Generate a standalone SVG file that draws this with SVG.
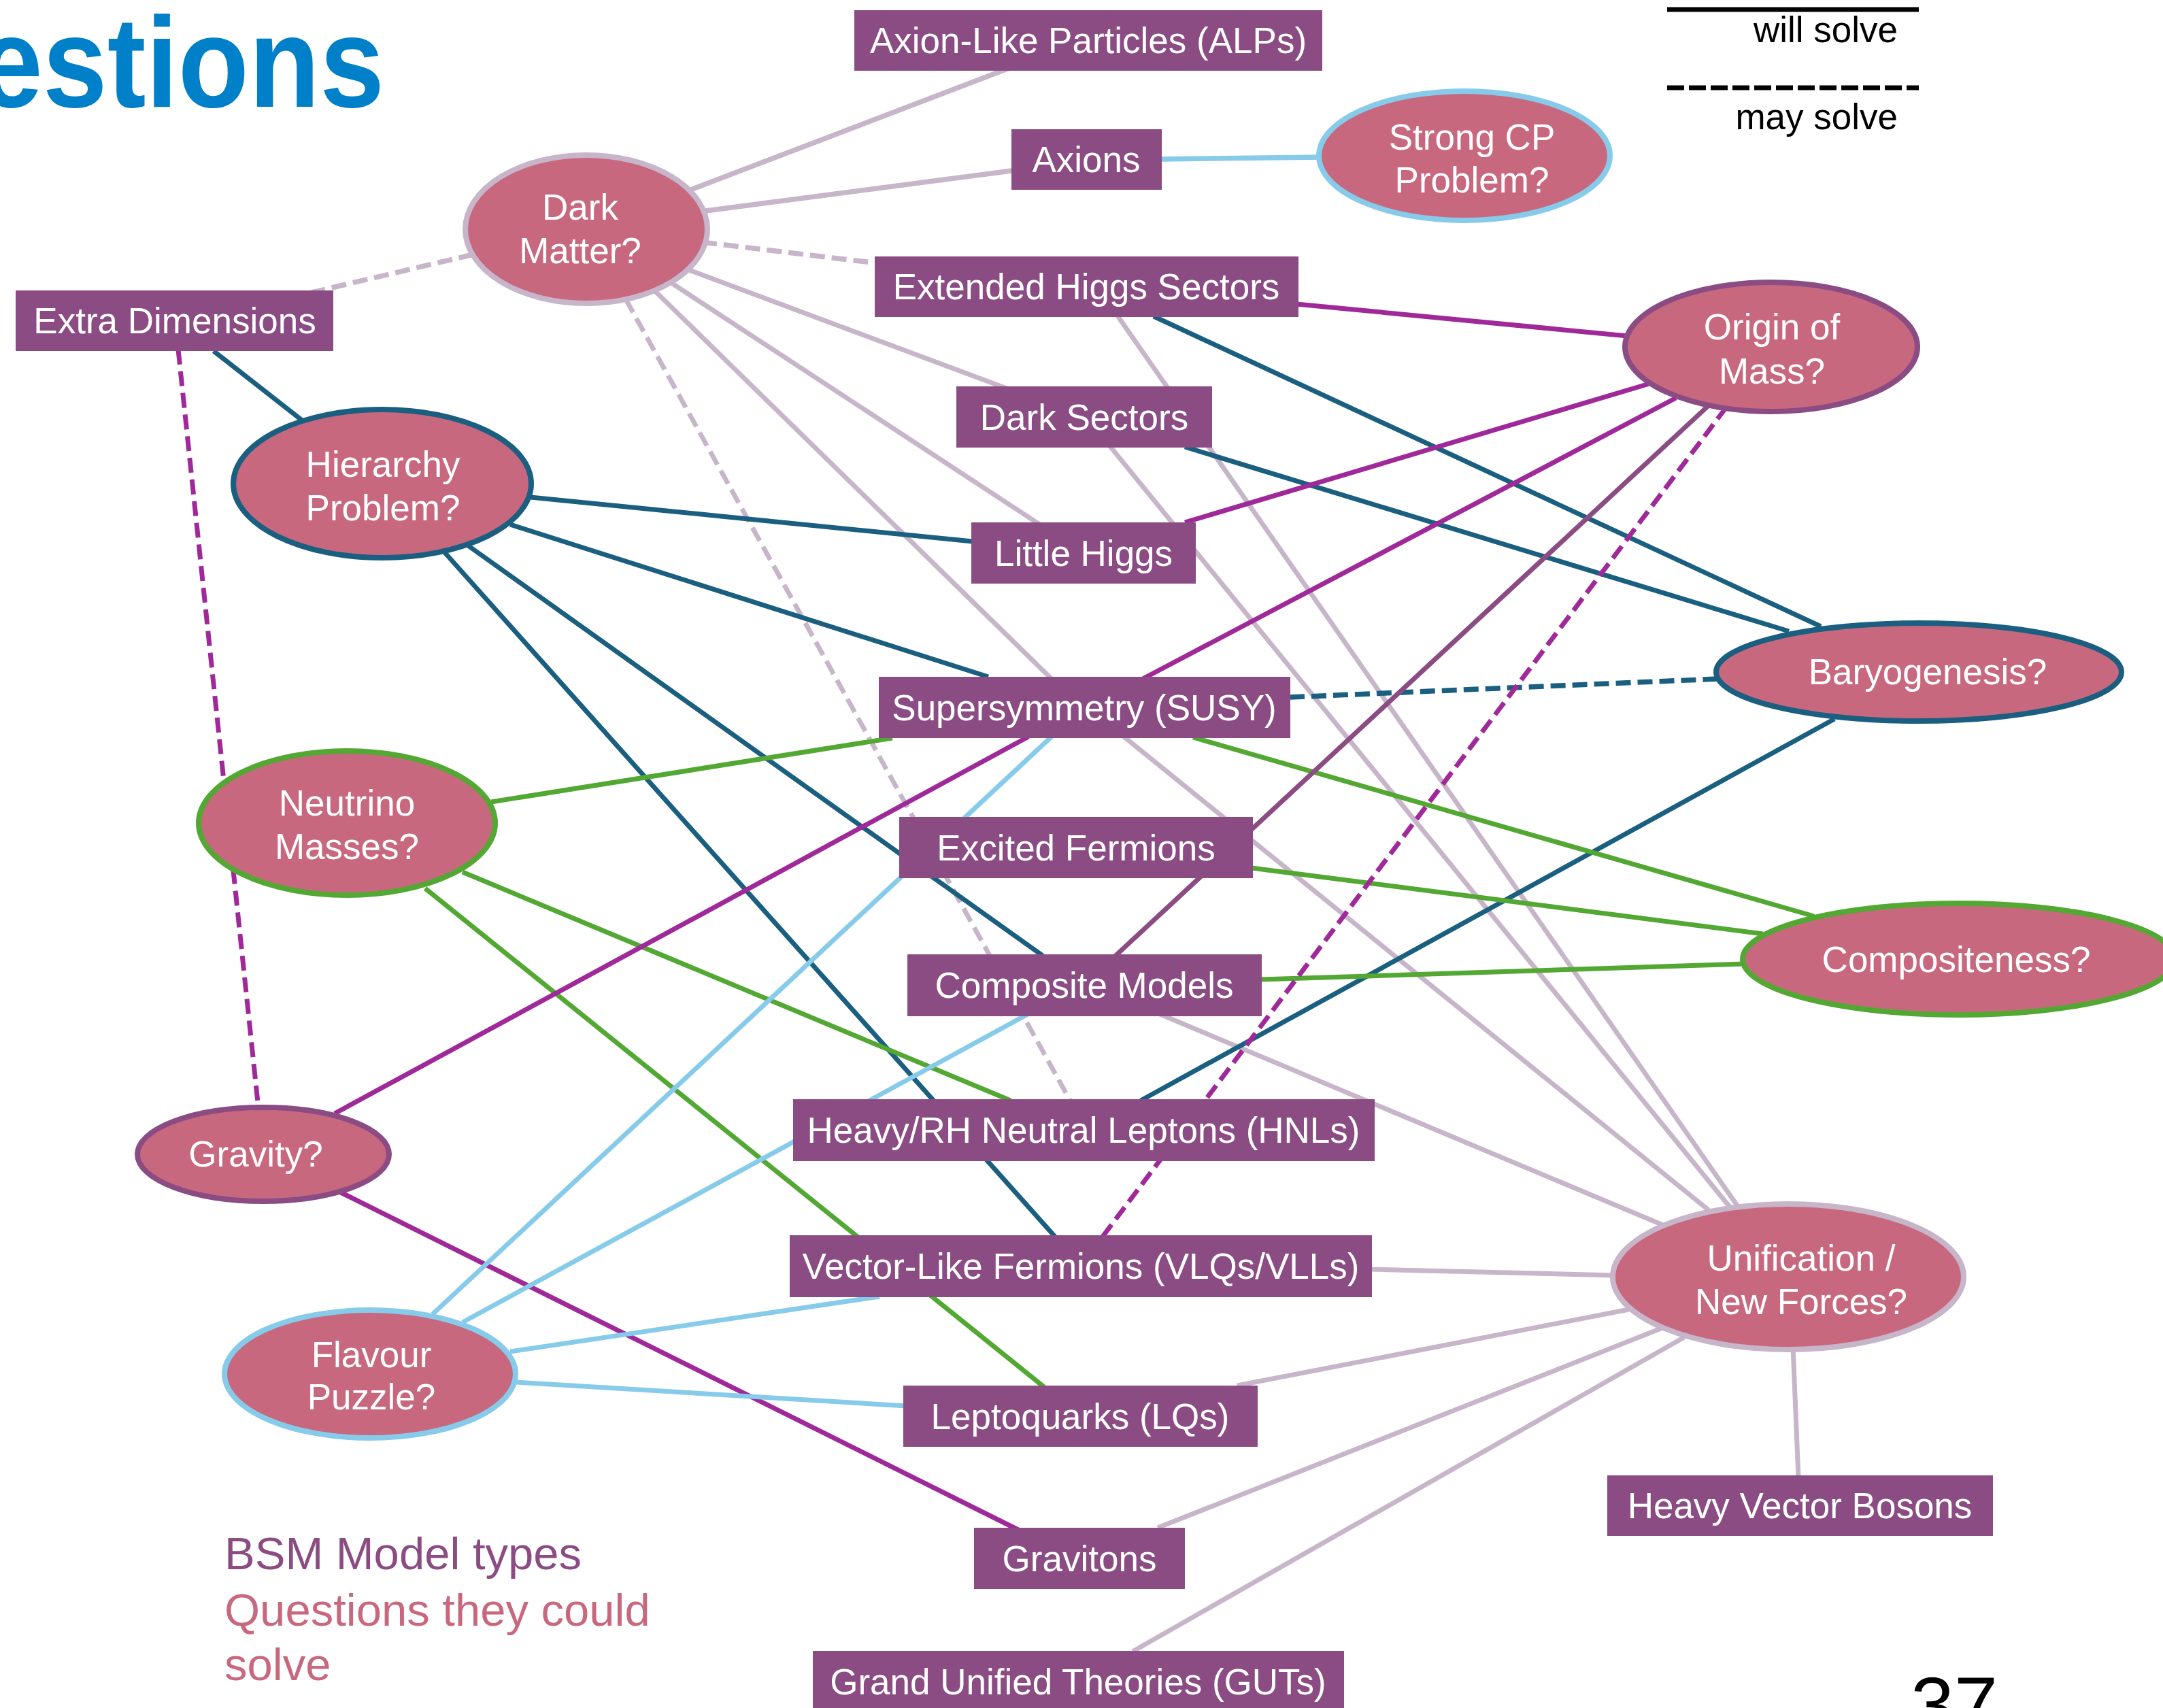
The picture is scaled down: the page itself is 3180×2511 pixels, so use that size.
<svg xmlns="http://www.w3.org/2000/svg" width="3180" height="2511" viewBox="0 0 3180 2511">
<style>
.c{fill:none;stroke-width:7;stroke-linecap:butt}
.m{stroke:#C7B5C9}.t{stroke:#1A5F80}.g{stroke:#52A832}.p{stroke:#A0299A}.q{stroke:#8B4C84}.b{stroke:#87CBEA}
.w7{stroke-width:7.5}
.d{stroke-dasharray:22 10}
.box rect{fill:#8B4C84}
.q1 ellipse{fill:#C8687E;stroke-width:8}
text{font-family:"Liberation Sans",Arial,Helvetica,sans-serif}
.lb{fill:#fff;font-size:53px;text-anchor:middle}
</style>
<rect width="3180" height="2511" fill="#fff"/>
<text x="-32" y="157" font-size="190" font-weight="bold" fill="#0080C8" textLength="597" lengthAdjust="spacingAndGlyphs">estions</text>
<g id="legend">
<line x1="2451" y1="14" x2="2821" y2="14" stroke="#000" stroke-width="7"/>
<text x="2790" y="62" font-size="53" text-anchor="end" fill="#000">will solve</text>
<line x1="2451" y1="129" x2="2821" y2="129" stroke="#000" stroke-width="7" stroke-dasharray="25 7"/>
<text x="2790" y="190" font-size="53" text-anchor="end" fill="#000">may solve</text>
<text x="330" y="2307" font-size="67" fill="#8B4C84">BSM Model types</text>
<text x="330" y="2390" font-size="67" fill="#C8687E">Questions they could</text>
<text x="330" y="2470" font-size="67" fill="#C8687E">solve</text>
<text x="2809" y="2546" font-size="115" fill="#000">37</text>
</g>
<g id="connectors">
<line class="c m w7" x1="1010" y1="281" x2="1484" y2="100"/>
<line class="c m w7" x1="1030" y1="311" x2="1495" y2="250"/>
<line class="c m w7 d" x1="1032" y1="356" x2="1290" y2="387"/>
<line class="c m w7 d" x1="696" y1="374" x2="458" y2="430"/>
<line class="c m" x1="1008" y1="395" x2="1480" y2="571"/>
<line class="c m" x1="984" y1="414" x2="1530" y2="772"/>
<line class="c m" x1="960" y1="425" x2="1548" y2="1000"/>
<line class="c m d" x1="920" y1="440" x2="1575" y2="1621"/>
<line class="c m" x1="1640" y1="460" x2="2558" y2="1778"/>
<line class="c m" x1="1631" y1="655" x2="2546" y2="1778"/>
<line class="c m" x1="1651" y1="1082" x2="2512" y2="1779"/>
<line class="c m" x1="1703" y1="1490" x2="2445" y2="1801"/>
<line class="c m" x1="2015" y1="1866" x2="2375" y2="1875"/>
<line class="c m" x1="1819" y1="2037" x2="2395" y2="1925"/>
<line class="c m" x1="1702" y1="2246" x2="2442" y2="1953"/>
<line class="c m" x1="1665" y1="2428" x2="2476" y2="1966"/>
<line class="c m" x1="2636" y1="1980" x2="2644" y2="2172"/>
<line class="c t" x1="314" y1="516" x2="448" y2="621"/>
<line class="c t" x1="780" y1="731" x2="1430" y2="796"/>
<line class="c t" x1="750" y1="771" x2="1453" y2="995"/>
<line class="c t" x1="688" y1="802" x2="1533" y2="1405"/>
<line class="c t" x1="650" y1="808" x2="1551" y2="1818"/>
<line class="c t" x1="1696" y1="465" x2="2677" y2="921"/>
<line class="c t" x1="1742" y1="657" x2="2630" y2="928"/>
<line class="c t w7 d" x1="1896" y1="1025" x2="2527" y2="998"/>
<line class="c t" x1="1677" y1="1618" x2="2697" y2="1057"/>
<line class="c g" x1="722" y1="1179" x2="1312" y2="1085"/>
<line class="c g" x1="680" y1="1282" x2="1486" y2="1618"/>
<line class="c g" x1="625" y1="1306" x2="1535" y2="2039"/>
<line class="c g" x1="1754" y1="1084" x2="2667" y2="1347"/>
<line class="c g" x1="1840" y1="1276" x2="2592" y2="1373"/>
<line class="c g" x1="1853" y1="1440" x2="2566" y2="1417"/>
<line class="c p" x1="1906" y1="447" x2="2393" y2="494"/>
<line class="c p" x1="1742" y1="768" x2="2425" y2="564"/>
<line class="c p" x1="1680" y1="998" x2="2464" y2="585"/>
<line class="c q" x1="1640" y1="1405" x2="2511" y2="597"/>
<line class="c p d" x1="1621" y1="1818" x2="2537" y2="600"/>
<line class="c p d" x1="262" y1="514" x2="380" y2="1630"/>
<line class="c p" x1="492" y1="1637" x2="1512" y2="1083"/>
<line class="c p" x1="499" y1="1752" x2="1497" y2="2249"/>
<line class="c b w7" x1="1706" y1="234" x2="1945" y2="231"/>
<line class="c b" x1="636" y1="1932" x2="1547" y2="1082"/>
<line class="c b" x1="680" y1="1944" x2="1511" y2="1491"/>
<line class="c b" x1="750" y1="1987" x2="1293" y2="1906"/>
<line class="c b" x1="758" y1="2032" x2="1333" y2="2067"/>
</g>
<g id="n-alps" class="box"><rect x="1256" y="15" width="688" height="89"/><text class="lb" x="1600" y="78">Axion-Like Particles (ALPs)</text></g>
<g id="n-axions" class="box"><rect x="1487" y="190" width="221" height="89"/><text class="lb" x="1597" y="253">Axions</text></g>
<g id="n-exthiggs" class="box"><rect x="1286" y="377" width="623" height="89"/><text class="lb" x="1597" y="440">Extended Higgs Sectors</text></g>
<g id="n-extradim" class="box"><rect x="23" y="427" width="467" height="89"/><text class="lb" x="257" y="490">Extra Dimensions</text></g>
<g id="n-darksec" class="box"><rect x="1406" y="568" width="376" height="90"/><text class="lb" x="1594" y="632">Dark Sectors</text></g>
<g id="n-littlehiggs" class="box"><rect x="1428" y="768" width="330" height="90"/><text class="lb" x="1593" y="832">Little Higgs</text></g>
<g id="n-susy" class="box"><rect x="1292" y="995" width="605" height="90"/><text class="lb" x="1594" y="1059">Supersymmetry (SUSY)</text></g>
<g id="n-excited" class="box"><rect x="1322" y="1201" width="520" height="90"/><text class="lb" x="1582" y="1265">Excited Fermions</text></g>
<g id="n-composite" class="box"><rect x="1334" y="1403" width="521" height="91"/><text class="lb" x="1594" y="1467">Composite Models</text></g>
<g id="n-hnl" class="box"><rect x="1166" y="1616" width="855" height="91"/><text class="lb" x="1593" y="1680">Heavy/RH Neutral Leptons (HNLs)</text></g>
<g id="n-vlf" class="box"><rect x="1161" y="1816" width="856" height="91"/><text class="lb" x="1589" y="1880">Vector-Like Fermions (VLQs/VLLs)</text></g>
<g id="n-lq" class="box"><rect x="1328" y="2037" width="521" height="90"/><text class="lb" x="1588" y="2101">Leptoquarks (LQs)</text></g>
<g id="n-gravitons" class="box"><rect x="1432" y="2246" width="310" height="90"/><text class="lb" x="1587" y="2310">Gravitons</text></g>
<g id="n-guts" class="box"><rect x="1195" y="2427" width="781" height="100"/><text class="lb" x="1585" y="2491">Grand Unified Theories (GUTs)</text></g>
<g id="n-hvb" class="box"><rect x="2363" y="2169" width="567" height="89"/><text class="lb" x="2646" y="2232">Heavy Vector Bosons</text></g>
<g id="q-dm" class="q1"><ellipse cx="862" cy="337" rx="178" ry="109" stroke="#C7B5C9" stroke-width="9"/><text class="lb" x="853" y="323">Dark</text><text class="lb" x="853" y="387">Matter?</text></g>
<g id="q-strongcp" class="q1"><ellipse cx="2153" cy="229" rx="214" ry="95" stroke="#87CBEA" stroke-width="9"/><text class="lb" x="2164" y="220">Strong CP</text><text class="lb" x="2164" y="283">Problem?</text></g>
<g id="q-origin" class="q1"><ellipse cx="2604" cy="510" rx="215" ry="95" stroke="#8B4C84"/><text class="lb" x="2605" y="499">Origin of</text><text class="lb" x="2605" y="564">Mass?</text></g>
<g id="q-hierarchy" class="q1"><ellipse cx="562" cy="711" rx="219" ry="109" stroke="#1A5F80"/><text class="lb" x="563" y="701">Hierarchy</text><text class="lb" x="563" y="765">Problem?</text></g>
<g id="q-baryo" class="q1"><ellipse cx="2821" cy="988" rx="298" ry="72" stroke="#1A5F80"/><text class="lb" x="2834" y="1006">Baryogenesis?</text></g>
<g id="q-neutrino" class="q1"><ellipse cx="510" cy="1210" rx="218" ry="106" stroke="#52A832"/><text class="lb" x="510" y="1199">Neutrino</text><text class="lb" x="510" y="1263">Masses?</text></g>
<g id="q-composite" class="q1"><ellipse cx="2880" cy="1410" rx="318" ry="82" stroke="#52A832" stroke-width="9"/><text class="lb" x="2876" y="1429">Compositeness?</text></g>
<g id="q-gravity" class="q1"><ellipse cx="387" cy="1697" rx="185" ry="69" stroke="#8B4C84"/><text class="lb" x="376" y="1715">Gravity?</text></g>
<g id="q-flavour" class="q1"><ellipse cx="544" cy="2020" rx="214" ry="94" stroke="#87CBEA" stroke-width="9"/><text class="lb" x="546" y="2010">Flavour</text><text class="lb" x="546" y="2072">Puzzle?</text></g>
<g id="q-unif" class="q1"><ellipse cx="2629" cy="1877" rx="258" ry="107" stroke="#C7B5C9"/><text class="lb" x="2648" y="1868">Unification /</text><text class="lb" x="2648" y="1932">New Forces?</text></g>
</svg>
